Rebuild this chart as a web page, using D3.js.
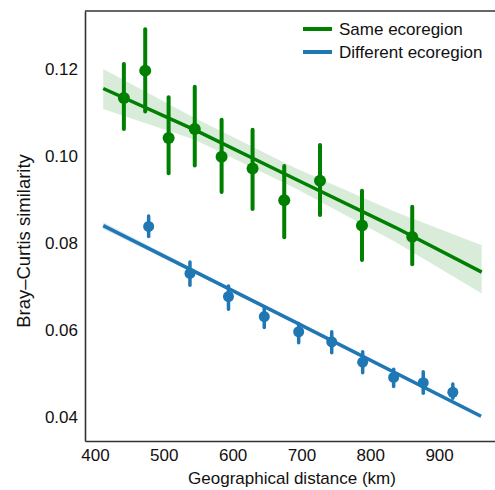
<!DOCTYPE html>
<html>
<head>
<meta charset="utf-8">
<script src="https://cdn.jsdelivr.net/npm/d3@7"></script>
<style>
  body { margin: 0; background: #fff; }
  text { font-family: "Liberation Sans", Arial, sans-serif; }
</style>
</head>
<body>
<svg width="495" height="490"></svg>
<script>
// binned means with error bars, same ecoregion
var sameDist = [442, 473, 507, 545, 584, 629, 675, 727, 788, 861];
var sameMean = [0.1133, 0.1196, 0.1041, 0.1062, 0.0998, 0.0971, 0.0898, 0.0943, 0.0840, 0.0814];
var sameLo = [0.1062, 0.1102, 0.0960, 0.0978, 0.0917, 0.0878, 0.0813, 0.0864, 0.0761, 0.0751];
var sameHi = [0.1211, 0.1291, 0.1135, 0.1159, 0.1083, 0.1060, 0.0977, 0.1025, 0.0920, 0.0883];

// different ecoregion
var diffDist = [478, 538, 594, 646, 696, 744, 789, 834, 877, 920];
var diffMean = [0.0838, 0.0730, 0.0677, 0.0631, 0.0596, 0.0573, 0.0526, 0.0491, 0.0479, 0.0457];
var diffLo = [0.0815, 0.0703, 0.0648, 0.0606, 0.0571, 0.0548, 0.0502, 0.0470, 0.0455, 0.0443];
var diffHi = [0.0862, 0.0756, 0.0701, 0.0652, 0.0615, 0.0596, 0.0550, 0.0510, 0.0504, 0.0476];

// regression fits and confidence bands
var sameFitX = [412, 545, 691, 836, 962];
var sameFitY = [0.1155, 0.1060, 0.0947, 0.0836, 0.0733];
var sameBandLo = [0.1108, 0.1037, 0.0926, 0.0803, 0.0684];
var sameBandHi = [0.1200, 0.1087, 0.0972, 0.0872, 0.0795];

var diffFitX = [412, 691, 961];
var diffFitY = [0.0840, 0.0618, 0.0402];
var diffBandLo = [0.0832, 0.0616, 0.0397];
var diffBandHi = [0.0848, 0.0620, 0.0407];

var seriesNames = ["Same ecoregion", "Different ecoregion"];
var colors = ["#008000", "#1f77b4"];
var xTicks = [400, 500, 600, 700, 800, 900];
var yTicks = [0.04, 0.06, 0.08, 0.10, 0.12];

var svg = d3.select("svg"),
    m = {left: 85, top: 11, bottom: 441, right: 501};

var x = d3.scaleLinear().domain([385.5, 990]).range([m.left, m.right]);
var y = d3.scaleLinear().domain([0.0345, 0.1333]).range([m.bottom, m.top]);

var series = [
  {dist: sameDist, mean: sameMean, lo: sameLo, hi: sameHi, fx: sameFitX, fy: sameFitY, bl: sameBandLo, bh: sameBandHi, r: 6, w: 4},
  {dist: diffDist, mean: diffMean, lo: diffLo, hi: diffHi, fx: diffFitX, fy: diffFitY, bl: diffBandLo, bh: diffBandHi, r: 5.5, w: 3.5}
];

var area = d3.area()
    .x(function (d) { return x(d[0]); })
    .y0(function (d) { return y(d[1]); })
    .y1(function (d) { return y(d[2]); });
var line = d3.line()
    .x(function (d) { return x(d[0]); })
    .y(function (d) { return y(d[1]); });

var plot = svg.append("g");

series.forEach(function (s, i) {
  var g = plot.append("g");
  g.append("path")
      .attr("d", area(s.fx.map(function (v, j) { return [v, s.bl[j], s.bh[j]]; })))
      .attr("fill", colors[i])
      .attr("fill-opacity", 0.15);
  g.append("path")
      .attr("d", line(s.fx.map(function (v, j) { return [v, s.fy[j]]; })))
      .attr("fill", "none")
      .attr("stroke", colors[i])
      .attr("stroke-width", 3.5);
  s.dist.forEach(function (d, j) {
    g.append("line")
        .attr("x1", x(d)).attr("x2", x(d))
        .attr("y1", y(s.lo[j])).attr("y2", y(s.hi[j]))
        .attr("stroke", colors[i])
        .attr("stroke-width", s.w)
        .attr("stroke-linecap", "round");
    g.append("circle")
        .attr("cx", x(d))
        .attr("cy", y(s.mean[j]))
        .attr("r", s.r)
        .attr("fill", colors[i]);
  });
});

// axes
var xAxis = svg.append("g")
    .attr("transform", "translate(0," + m.bottom + ")")
    .call(d3.axisBottom(x).tickValues(xTicks).tickSize(0).tickSizeOuter(0).tickPadding(8));
var yAxis = svg.append("g")
    .attr("transform", "translate(" + m.left + ",0)")
    .call(d3.axisLeft(y).tickValues(yTicks).tickFormat(d3.format(".2f")).tickSize(0).tickSizeOuter(0).tickPadding(7));

[xAxis, yAxis].forEach(function (a) {
  a.select(".domain").attr("stroke", "#333").attr("stroke-width", 1.6);
  a.selectAll("text").attr("font-size", 17).attr("fill", "#111")
      .style("font-family", "'Liberation Sans', Arial, sans-serif");
});

svg.append("line")
    .attr("x1", m.left).attr("x2", m.right)
    .attr("y1", m.top).attr("y2", m.top)
    .attr("stroke", "#333").attr("stroke-width", 1.6);

svg.append("text")
    .attr("x", 292)
    .attr("y", 484)
    .attr("text-anchor", "middle")
    .attr("font-size", 17)
    .attr("fill", "#111")
    .text("Geographical distance (km)");

svg.append("text")
    .attr("transform", "translate(30,241) rotate(-90)")
    .attr("text-anchor", "middle")
    .attr("font-size", 18.5)
    .attr("fill", "#111")
    .text("Bray–Curtis similarity");

// legend
var legend = svg.append("g").attr("transform", "translate(303,29)");
seriesNames.forEach(function (name, i) {
  var row = legend.append("g").attr("transform", "translate(0," + (i * 23) + ")");
  row.append("line")
      .attr("x1", 0).attr("x2", 29)
      .attr("stroke", colors[i])
      .attr("stroke-width", 4);
  row.append("text")
      .attr("x", 36)
      .attr("dy", "0.35em")
      .attr("font-size", 17)
      .attr("fill", "#111")
      .text(name);
});
</script>
</body>
</html>
